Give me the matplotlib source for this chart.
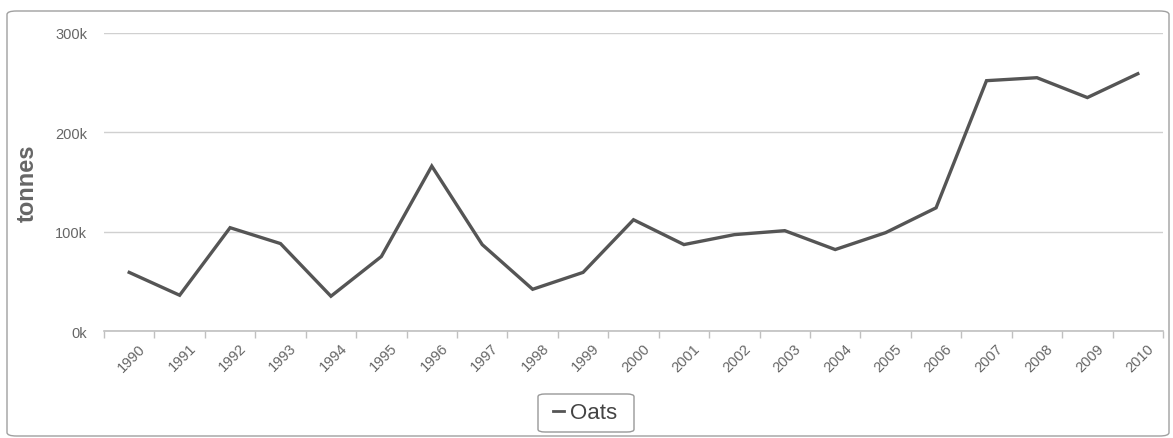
import matplotlib
matplotlib.use("Agg")
import matplotlib.pyplot as plt
import matplotlib.transforms as mtrans
from matplotlib.patches import FancyBboxPatch
from matplotlib.ticker import FuncFormatter

years = [str(y) for y in range(1990, 2011)]
oats = [59000, 36000, 104000, 88000, 35000, 75000, 166000, 87000, 42000, 59000,
        112000, 87000, 97000, 101000, 82000, 99000, 124000, 252000, 255000, 235000, 259000]
y_ticks = [0, 100000, 200000, 300000]

plt.rcParams['font.family'] = ['Liberation Sans', 'DejaVu Sans']

W, H = 1173, 439
fig = plt.figure(figsize=(W / 100, H / 100), dpi=100)
ax = fig.add_axes([104 / W, 1 - 332 / H, 1059 / W, 298 / H])

# outer rounded frame
frame = FancyBboxPatch((7 / W, 2 / H), 1162 / W, 425 / H,
                       boxstyle="round,pad=0,rounding_size=0.008",
                       transform=fig.transFigure, facecolor='none',
                       edgecolor='#a0a0a0', linewidth=1.0)
fig.patches.append(frame)

x = list(range(len(years)))
line, = ax.plot(x, oats, color='#555555', linewidth=2.4, solid_joinstyle='miter', label='Oats')

ax.set_xlim(-0.5, len(years) - 0.5)
ax.set_ylim(0, 300000)
ax.set_yticks(y_ticks)
ax.yaxis.set_major_formatter(FuncFormatter(lambda v, p: f"{int(v / 1000)}k"))
ax.grid(axis='y', color='#d0d0d0', linewidth=1.0)
ax.set_axisbelow(True)

for s in ['top', 'right', 'left']:
    ax.spines[s].set_visible(False)
ax.spines['bottom'].set_color('#c0c0c0')
ax.spines['bottom'].set_linewidth(1.2)

ax.tick_params(axis='y', length=0, pad=12, labelsize=10.5, labelcolor='#666666')
ax.set_xticks(x)
ax.set_xticklabels(years, rotation=45, ha='right', rotation_mode='anchor')
ax.tick_params(axis='x', which='major', length=0, pad=7, labelsize=10.5, labelcolor='#666666')
ax.set_xticks([i - 0.5 for i in range(len(years) + 1)], minor=True)
ax.tick_params(axis='x', which='minor', length=5, width=1, color='#c0c0c0')
offset = mtrans.ScaledTranslation(9 / 100, 0, fig.dpi_scale_trans)
for lab in ax.get_xticklabels():
    lab.set_transform(lab.get_transform() + offset)

ax.set_ylabel('tonnes', fontsize=17, fontweight='bold', color='#666666', labelpad=12)

# legend without its own frame, boxed by hand to get the wider padding
leg = fig.legend(handles=[line], loc='center', bbox_to_anchor=(585 / W, 1 - 414 / H),
                 frameon=False, fontsize=16,
                 handlelength=0.5, handletextpad=0.25, borderpad=0.3, borderaxespad=0)
leg.get_lines()[0].set_linewidth(2.0)
for t in leg.get_texts():
    t.set_color('#444444')
legbox = FancyBboxPatch((538 / W, 1 - 433 / H), 96 / W, 38 / H,
                        boxstyle="round,pad=0,rounding_size=0.006",
                        transform=fig.transFigure, facecolor='white',
                        edgecolor='#999999', linewidth=1.0, zorder=0)
fig.patches.append(legbox)

fig.savefig('out.png', dpi=100)
